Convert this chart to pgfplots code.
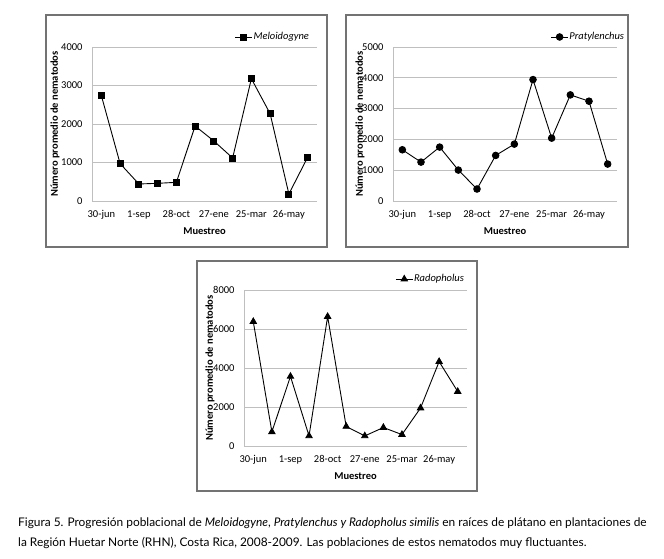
\documentclass[border=0pt]{standalone}
\usepackage{fontspec}
\setmainfont{Carlito}
\newfontfamily\capfont{Lato}
\usepackage{pgfplots}
\pgfplotsset{compat=1.18}

\pgfplotsset{
  legend image code/.code={\draw[mark repeat=2,mark phase=2,#1] plot coordinates {(0pt,0pt) (8.5pt,0pt) (17pt,0pt)};},
  nem/.style={
    scale only axis,
    xmin=-0.5, xmax=11.5, ymin=0,
    axis x line*=bottom, axis y line*=left,
    axis line style={draw=gray!50, line width=0.8pt},
    ymajorgrids, grid style={gray!50, line width=0.8pt},
    major tick length=0pt,
    xtick={0,2,4,6,8,10},
    xticklabels={30-jun,1-sep,28-oct,27-ene,25-mar,26-may},
    tick label style={font=\fontsize{10.5}{12}\selectfont},
    /pgf/number format/assume math mode=true,
    /pgf/number format/1000 sep={},
    yticklabel style={xshift=-6pt},
    xticklabel style={yshift=-6pt},
    ylabel={Número promedio de nematodos},
    xlabel={Muestreo},
    label style={font=\bfseries\fontsize{10.5}{12}\selectfont},
    legend style={draw=none, fill=none, font=\itshape\fontsize{10.5}{12}\selectfont, inner sep=0pt, anchor=east,
      nodes={inner xsep=0.8pt}},
  },
  ser/.style={black, line width=0.9pt, mark options={solid, fill=black}},
}

\begin{document}
\begin{tikzpicture}[x=1pt,y=1pt]
\fill[white] (0,0) rectangle (664,559);
\draw[black!55, line width=1.1pt] (46,544) rectangle (327,312);
\draw[black!55, line width=1.1pt] (346,544) rectangle (628,312);
\draw[black!55, line width=1.1pt] (197,298) rectangle (477,68);

\begin{axis}[nem, at={(92pt,358pt)}, anchor=south west, width=225pt, height=154pt,
  ymax=4000, ytick={0,1000,2000,3000,4000},
  ylabel style={at={(axis description cs:-0.164,0.5)}, anchor=center},
  xlabel style={at={(axis description cs:0.5,-0.195)}, anchor=center},
  legend style={at={(axis description cs:0.969,1.065)}}]
\addplot[ser, mark=square*, mark size=3pt] coordinates {
(0,2736) (1,970) (2,442) (3,459) (4,485) (5,1948) (6,1558) (7,1117) (8,3177) (9,2268) (10,182) (11,1134)};
\addlegendentry{Meloidogyne}
\end{axis}

\begin{axis}[nem, at={(393pt,358pt)}, anchor=south west, width=224pt, height=154pt,
  ymax=5000, ytick={0,1000,2000,3000,4000,5000},
  ylabel style={at={(axis description cs:-0.147,0.5)}, anchor=center},
  xlabel style={at={(axis description cs:0.5,-0.195)}, anchor=center},
  legend style={at={(axis description cs:1.036,1.065)}}]
\addplot[ser, mark=*, mark size=3.3pt] coordinates {
(0,1663) (1,1263) (2,1750) (3,1004) (4,389) (5,1479) (6,1847) (7,3942) (8,2041) (9,3445) (10,3240) (11,1199)};
\addlegendentry{Pratylenchus}
\end{axis}

\begin{axis}[nem, at={(244pt,113pt)}, anchor=south west, width=223pt, height=156pt,
  ymax=8000, ytick={0,2000,4000,6000,8000},
  ylabel style={at={(axis description cs:-0.152,0.5)}, anchor=center},
  xlabel style={at={(axis description cs:0.5,-0.19)}, anchor=center},
  legend style={at={(axis description cs:0.991,1.07)}}]
\addplot[ser, mark=triangle*, mark size=3.6pt] coordinates {
(0,6379) (1,724) (2,3569) (3,517) (4,6638) (5,1000) (6,517) (7,948) (8,586) (9,1948) (10,4328) (11,2793)};
\addlegendentry{Radopholus}
\end{axis}

\node[anchor=base west, inner sep=0pt, font=\capfont\fontsize{11.9}{13}\selectfont] at (18,32)
 {Figura 5. Progresión poblacional de \textit{Meloidogyne}, \textit{Pratylenchus y Radopholus similis} en raíces de plátano en plantaciones de};
\node[anchor=base west, inner sep=0pt, font=\capfont\fontsize{11.9}{13}\selectfont] at (18,12)
 {la Región Huetar Norte (RHN), Costa Rica, 2008-2009. Las poblaciones de estos nematodos muy fluctuantes.};

\pgfresetboundingbox
\path[use as bounding box] (0,0) rectangle (664,559);
\end{tikzpicture}
\end{document}
